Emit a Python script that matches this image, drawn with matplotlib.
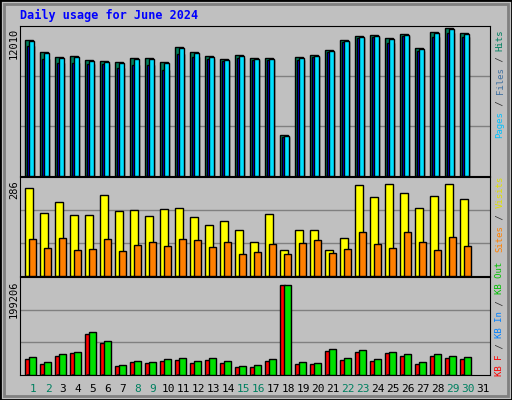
import numpy as np
import matplotlib.pyplot as plt

days = list(range(1, 32))
weekend = [1, 2, 8, 9, 15, 16, 22, 23, 29, 30]

# top panel (max 12010)
hits = [10865, 9905, 9505, 9585, 9265, 9208, 9105, 9425, 9425, 9105, 10305, 9905, 9585, 9345, 9665,
        9425, 9425, 3260, 9505, 9665, 10065, 10865, 11185, 11265, 11025, 11345, 10225, 11505, 11825, 11425]
pages = [10785, 9825, 9425, 9505, 9185, 9128, 9025, 9345, 9345, 9025, 10225, 9825, 9505, 9265, 9585,
         9345, 9345, 3180, 9425, 9585, 9985, 10785, 11105, 11185, 10945, 11265, 10145, 11425, 11745, 11345]
files = [10410, 9370, 9050, 9050, 8970, 8970, 8650, 8890, 8890, 8490, 9770, 9530, 9370, 9210, 9450,
         9290, 9290, 3120, 9290, 9530, 9930, 10730, 11050, 11130, 10650, 11210, 10010, 11130, 11450, 11130]
# middle panel (max 286)
visits = [254, 182, 214, 176, 176, 234, 188, 191, 173, 194, 196, 170, 147, 159, 133,
          98, 179, 75, 133, 133, 75, 110, 263, 228, 266, 240, 196, 231, 266, 222]
sites = [107, 81, 110, 75, 78, 107, 72, 90, 98, 87, 107, 104, 84, 98, 64,
         69, 92, 64, 95, 104, 66, 78, 127, 92, 81, 127, 98, 75, 113, 87]
# bottom panel (max 199206)
kb_out = [36220, 26160, 42250, 46280, 86520, 68410, 20120, 28170, 26160, 32190, 34210, 28170, 34210, 28170, 18110,
          20120, 32190, 183100, 26160, 24150, 52310, 34210, 50300, 32190, 46280, 42250, 26160, 42250, 38230, 36220]
kb_f = [32190, 22130, 38230, 44270, 82500, 64390, 18110, 26160, 24150, 28170, 30180, 24150, 30180, 24150, 16100,
        16100, 28170, 183100, 22130, 22130, 48290, 30180, 46280, 28170, 44270, 38230, 22130, 38230, 34210, 32190]
kb_in = [2000, 1800, 2000, 2000, 2200, 2000, 1600, 1800, 1800, 1800, 1800, 1800, 1800, 1800, 1600,
         1600, 2000, 1000, 2000, 1800, 2000, 2000, 2200, 2000, 2400, 2000, 2000, 2000, 2000, 2000]

W, H = 512, 400
fig = plt.figure(figsize=(W / 100, H / 100), dpi=100, facecolor='#C0C0C0')
mono = 'DejaVu Sans Mono'

def panel(top, bottom):
    ax = fig.add_axes([20 / W, 1 - bottom / H, 470 / W, (bottom - top) / H])
    ax.set_facecolor('#C0C0C0')
    ax.set_xlim(0.367, 31.7)
    ax.set_xticks([])
    ax.set_yticks([])
    for s in ax.spines.values():
        s.set_color('black')
    return ax

x = np.array(days[:len(hits)])
ec = dict(edgecolor='black', linewidth=1)

ax1 = panel(26, 176)
ax1.set_ylim(0, 12010)
for g in (12010 / 3, 2 * 12010 / 3):
    ax1.axhline(g, color='#808080', lw=1, zorder=0)
ax1.bar(x - 0.3, hits, width=0.53, align='edge', color='#00805c', **ec, zorder=2)
ax1.bar(x - 0.17, files, width=0.45, align='edge', color='#0000ff', **ec, zorder=3)
ax1.bar(x, pages, width=0.33, align='edge', color='#00e0ff', **ec, zorder=4)

ax2 = panel(177, 276)
ax2.set_ylim(0, 286)
for g in (286 / 3, 2 * 286 / 3):
    ax2.axhline(g, color='#808080', lw=1, zorder=0)
ax2.bar(x - 0.28, visits, width=0.53, align='edge', color='#ffff00', **ec, zorder=2)
ax2.bar(x - 0.01, sites, width=0.46, align='edge', color='#ff8000', **ec, zorder=3)

ax3 = panel(277, 375)
ax3.set_ylim(0, 199206)
for g in (199206 / 3, 2 * 199206 / 3):
    ax3.axhline(g, color='#808080', lw=1, zorder=0)
ax3.bar(x - 0.28, kb_f, width=0.3, align='edge', color='#ff0000', **ec, zorder=2)
ax3.bar(x - 0.17, kb_in, width=0.07, align='edge', color='#0080ff', edgecolor='black', linewidth=0.5, zorder=3)
ax3.bar(x - 0.01, kb_out, width=0.46, align='edge', color='#00e000', **ec, zorder=3)

# day labels
for d in days:
    fig.text((33 + 15 * (d - 1)) / W, 1 - 389 / H, str(d), ha='center', va='center', fontsize=8,
             family=mono, color='#008060' if d in weekend else 'black')

fig.text(20 / W, 1 - 15 / H, 'Daily usage for June 2024', fontsize=8.5, fontweight='bold',
         family=mono, color='#0000ff', va='center')

for label, ytop in (('12010', 28), ('286', 180), ('199206', 280)):
    fig.text(14 / W, 1 - ytop / H, label, rotation=90, ha='center', va='top', fontsize=7.5,
             family=mono, color='black')

def side(parts, ybottom):
    y = ybottom
    for txt, col in parts:
        fig.text(500 / W, 1 - y / H, txt, rotation=90, ha='center', va='bottom', fontsize=6.5,
                 family=mono, color=col)
        y -= 5.45 * len(txt)

side([('Pages', '#00c0ff'), (' / ', '#303030'), ('Files', '#4070a0'), (' / ', '#303030'), ('Hits', '#008060')], 138)
side([('Sites', '#ff8000'), (' / ', '#303030'), ('Visits', '#e0e000')], 252)
side([('KB F', '#ff0000'), (' / ', '#303030'), ('KB In', '#0080ff'), (' / ', '#303030'), ('KB Out', '#00c000')], 376)

# frame
fig.patches.append(plt.Rectangle((0, 0), 1, 1, transform=fig.transFigure, fill=False,
                                 edgecolor='black', linewidth=2))
fig.patches.append(plt.Rectangle((4 / W, 4 / H), 1 - 8 / W, 1 - 8 / H, transform=fig.transFigure, fill=False,
                                 edgecolor='#808080', linewidth=2))

fig.savefig('out.png', dpi=100, facecolor='#C0C0C0')
